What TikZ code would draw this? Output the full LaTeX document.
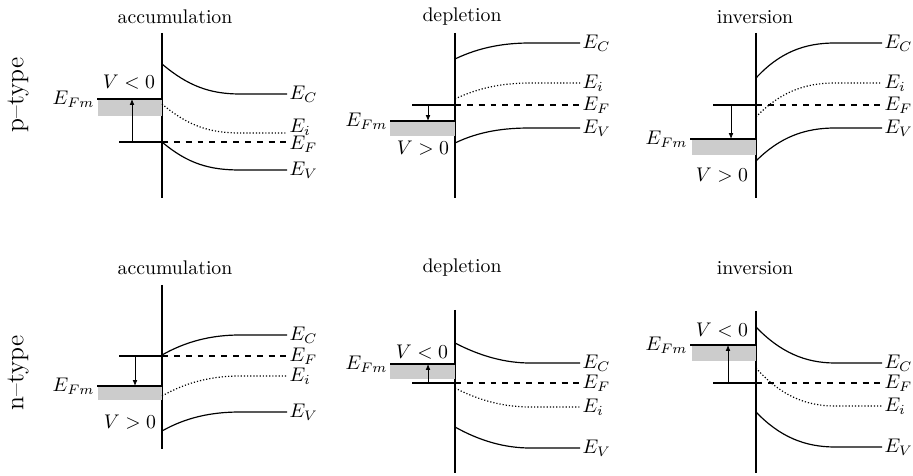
\documentclass[tikz,border=0pt]{standalone}
\usepackage{tikz}
\usetikzlibrary{arrows.meta}

\begin{document}
\begin{tikzpicture}[x=0.178mm,y=-0.178mm,
    band/.style={semithick},
    fermi/.style={semithick,dashed},
    intr/.style={semithick,densely dotted},
    metal/.style={fill=black!20},
    bias/.style={thin,-{Latex[length=3pt,width=2.4pt]}},
    lbl/.style={right,inner sep=1pt},
    lblm/.style={left,inner sep=1pt},
    side/.style={rotate=90,font=\fontsize{13}{15}\selectfont}]
  \useasboundingbox (0,0) rectangle (913,476);

  % p-type row
  \node[side] (ptype) at (18,95) {p--type};

  % accumulation
  \node (accp) at (175,17) {accumulation};
  \draw[band] (162,33) -- (162,198);
  \fill[metal] (98,99) rectangle (162,116);
  \draw[band] (97,99) -- (162,99) node[pos=0,lblm] (efm1) {$E_{Fm}$};
  \draw[band] (162,64) .. controls (188,86) and (210,94) .. (240,94) -- (287,94) node[lbl] (ec1) {$E_C$};
  \draw[intr] (162,104) .. controls (188,126) and (210,133) .. (240,133) -- (287,133) node[lbl,yshift=3pt] (ei1) {$E_i$};
  \draw[band] (119,142) -- (162,142);
  \draw[fermi] (162,142) -- (287,142) node[lbl,yshift=-1pt] (ef1) {$E_F$};
  \draw[band] (162,142) .. controls (188,164) and (210,170) .. (240,170) -- (287,170) node[lbl] (ev1) {$E_V$};
  \draw[bias] (132,142) -- (132,99);
  \node (v1) at (129,82) {$V<0$};

  % depletion
  \node (depp) at (462,17) {depletion};
  \draw[band] (455,33) -- (455,198);
  \fill[metal] (390,121) rectangle (455,136);
  \draw[band] (390,121) -- (455,121) node[pos=0,lblm] (efm2) {$E_{Fm}$};
  \draw[band] (455,59) .. controls (480,47) and (505,43) .. (530,43) -- (580,43) node[lbl] (ec2) {$E_C$};
  \draw[intr] (455,99) .. controls (480,87) and (505,83) .. (530,83) -- (580,83) node[lbl] (ei2) {$E_i$};
  \draw[band] (412,105) -- (455,105);
  \draw[fermi] (455,105) -- (580,105) node[lbl] (ef2) {$E_F$};
  \draw[band] (455,143) .. controls (480,131) and (505,128) .. (530,128) -- (580,128) node[lbl] (ev2) {$E_V$};
  \draw[bias] (428,105) -- (428,121);
  \node (v2) at (423,148) {$V>0$};

  % inversion
  \node (invp) at (755,17) {inversion};
  \draw[band] (756,33) -- (756,198);
  \fill[metal] (692,139) rectangle (756,155);
  \draw[band] (690,139) -- (756,139) node[pos=0,lblm] (efm3) {$E_{Fm}$};
  \draw[band] (756,78) .. controls (780,52) and (805,43) .. (835,43) -- (882,43) node[lbl] (ec3) {$E_C$};
  \draw[intr] (756,117) .. controls (780,92) and (805,83) .. (835,83) -- (882,83) node[lbl] (ei3) {$E_i$};
  \draw[band] (713,105) -- (756,105);
  \draw[fermi] (756,105) -- (882,105) node[lbl] (ef3) {$E_F$};
  \draw[band] (756,161) .. controls (780,137) and (805,128) .. (835,128) -- (882,128) node[lbl] (ev3) {$E_V$};
  \draw[bias] (731,105) -- (731,139);
  \node (v3) at (722,175) {$V>0$};

  % n-type row
  \node[side] (ntype) at (18,373) {n--type};

  % accumulation
  \node (accn) at (175,268) {accumulation};
  \draw[band] (162,285) -- (162,449);
  \fill[metal] (98,386) rectangle (162,400);
  \draw[band] (97,386) -- (162,386) node[pos=0,lblm] (efm4) {$E_{Fm}$};
  \draw[band] (162,355) .. controls (185,342) and (210,335) .. (240,335) -- (287,335) node[lbl] (ec4) {$E_C$};
  \draw[band] (119,356) -- (162,356);
  \draw[fermi] (162,356) -- (287,356) node[lbl] (ef4) {$E_F$};
  \draw[intr] (162,396) .. controls (185,383) and (210,376) .. (240,376) -- (287,376) node[lbl] (ei4) {$E_i$};
  \draw[band] (162,431) .. controls (185,418) and (210,412) .. (240,412) -- (287,412) node[lbl] (ev4) {$E_V$};
  \draw[bias] (135,356) -- (135,386);
  \node (v4) at (130,422) {$V>0$};

  % depletion
  \node (depn) at (462,268) {depletion};
  \draw[band] (455,310) -- (455,473);
  \fill[metal] (390,364) rectangle (455,379);
  \draw[band] (390,364) -- (455,364) node[pos=0,lblm] (efm5) {$E_{Fm}$};
  \draw[band] (455,343) .. controls (480,356) and (505,363) .. (530,363) -- (580,363) node[lbl] (ec5) {$E_C$};
  \draw[band] (412,383) -- (455,383);
  \draw[fermi] (455,383) -- (580,383) node[lbl] (ef5) {$E_F$};
  \draw[intr] (455,388) .. controls (480,401) and (505,407) .. (530,407) -- (580,407) node[lbl] (ei5) {$E_i$};
  \draw[band] (455,427) .. controls (480,441) and (505,448) .. (530,448) -- (580,448) node[lbl] (ev5) {$E_V$};
  \draw[bias] (428,383) -- (428,364);
  \node (v5) at (422,352) {$V<0$};

  % inversion
  \node (invn) at (755,268) {inversion};
  \draw[band] (756,311) -- (756,473);
  \fill[metal] (692,345) rectangle (756,361);
  \draw[band] (690,345) -- (756,345) node[pos=0,lblm] (efm6) {$E_{Fm}$};
  \draw[band] (756,327) .. controls (780,352) and (805,363) .. (835,363) -- (882,363) node[lbl] (ec6) {$E_C$};
  \draw[intr] (756,368) .. controls (780,395) and (805,406) .. (835,406) -- (882,406) node[lbl] (ei6) {$E_i$};
  \draw[band] (713,383) -- (756,383);
  \draw[fermi] (756,383) -- (882,383) node[lbl] (ef6) {$E_F$};
  \draw[band] (756,412) .. controls (780,437) and (805,447) .. (835,447) -- (882,447) node[lbl] (ev6) {$E_V$};
  \draw[bias] (728,383) -- (728,345);
  \node (v6) at (722,330) {$V<0$};
\end{tikzpicture}
\end{document}
